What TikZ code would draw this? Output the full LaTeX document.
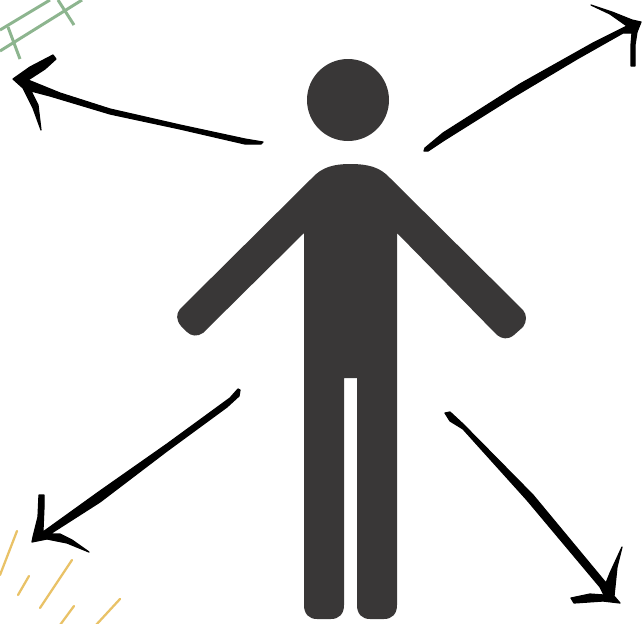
\documentclass[tikz,border=0pt]{standalone}
\definecolor{figgray}{HTML}{393737}
\definecolor{hatchgreen}{HTML}{8DB58F}
\definecolor{hatchyellow}{HTML}{E9C267}
\tikzset{
  figure/.style={fill=figgray},
  ink/.style={fill=black,draw=black,line width=0.7pt,line join=round},
  greenline/.style={draw=hatchgreen,line width=1.7pt},
  yellowline/.style={draw=hatchyellow,line width=1.3pt,line cap=round}
}
\begin{document}
\begin{tikzpicture}[x=0.02cm,y=-0.02cm]
  \useasboundingbox (0,0) rectangle (642,623);
  \clip (0,0) rectangle (642,623);
  % hatching in the corners
  \draw[greenline] (0,30) -- (50,0); \draw[greenline] (0,51) -- (82,0);
  \draw[greenline] (8,27) -- (20,59); \draw[greenline] (58,0) -- (74,25);
  \draw[yellowline] (17,531) -- (0,575); \draw[yellowline] (29,576) -- (18,595);
  \draw[yellowline] (72,560) -- (40,608); \draw[yellowline] (74,606) -- (60,625);
  \draw[yellowline] (120,599) -- (96,625);
  % the figure
  \fill[figure] (348,100) circle (41);
  \fill[figure] (304,233) -- (203,333) .. controls (197,337) and (191,336) .. (187,332)
    -- (181,326) .. controls (176,320) and (176,314) .. (180,309)
    -- (312,178) .. controls (322,167) and (334,164) .. (350,164)
    .. controls (368,164) and (380,167) .. (390,178)
    -- (523,310) .. controls (527,315) and (527,321) .. (523,327)
    -- (514,335) .. controls (508,340) and (502,339) .. (497,335)
    -- (397,233) -- (397,605) .. controls (397,614) and (392,619) .. (384,619)
    -- (370,619) .. controls (362,619) and (357,614) .. (357,605)
    -- (357,378) -- (344,378) -- (344,605) .. controls (344,614) and (339,619) .. (331,619)
    -- (317,619) .. controls (309,619) and (304,614) .. (304,605) -- cycle;
  % upper left arrow
  \fill[ink,draw] (263,142) -- (245,139) -- (180,125) -- (110,109) -- (60,93) -- (28,80)
    -- (45,69) -- (56,59) -- (53,55) -- (30,67) -- (13,79) -- (23,88) -- (33,108) -- (41,130)
    -- (38,105) -- (31,91) -- (50,96) -- (110,114) -- (180,129) -- (245,144) -- (261,144) -- cycle;
  % upper right arrow
  \fill[ink,draw] (424,151) -- (425,148) -- (443,133) -- (520,84) -- (593,43) -- (627,26)
    -- (610,14) -- (591,5) -- (612,12) -- (632,20) -- (641,22) -- (637,32) -- (635,45)
    -- (635,66) -- (631,66) -- (631,45) -- (632,33) -- (623,33) -- (577,59) -- (510,99)
    -- (443,141) -- (428,151) -- cycle;
  % lower left arrow
  \fill[ink,draw] (240,390) -- (238,389) -- (230,398) -- (167,444) -- (100,491) -- (43,532)
    -- (43,530) -- (44,507) -- (44,495) -- (39,495) -- (38,517) -- (33,537) -- (32,542)
    -- (47,539) -- (67,543) -- (89,552) -- (72,540) -- (60,534) -- (50,534) -- (100,502)
    -- (167,451) -- (227,407) -- (239,396) -- cycle;
  % lower right arrow
  \fill[ink,draw] (445,413) -- (450,412) -- (463,424) -- (533,495) -- (606,583) -- (610,573)
    -- (622,547) -- (617,567) -- (614,596) -- (620,603) -- (603,601) -- (574,603) -- (571,598)
    -- (590,594) -- (604,595) -- (600,587) -- (527,500) -- (463,429) -- (450,421) -- cycle;
\end{tikzpicture}
\end{document}
